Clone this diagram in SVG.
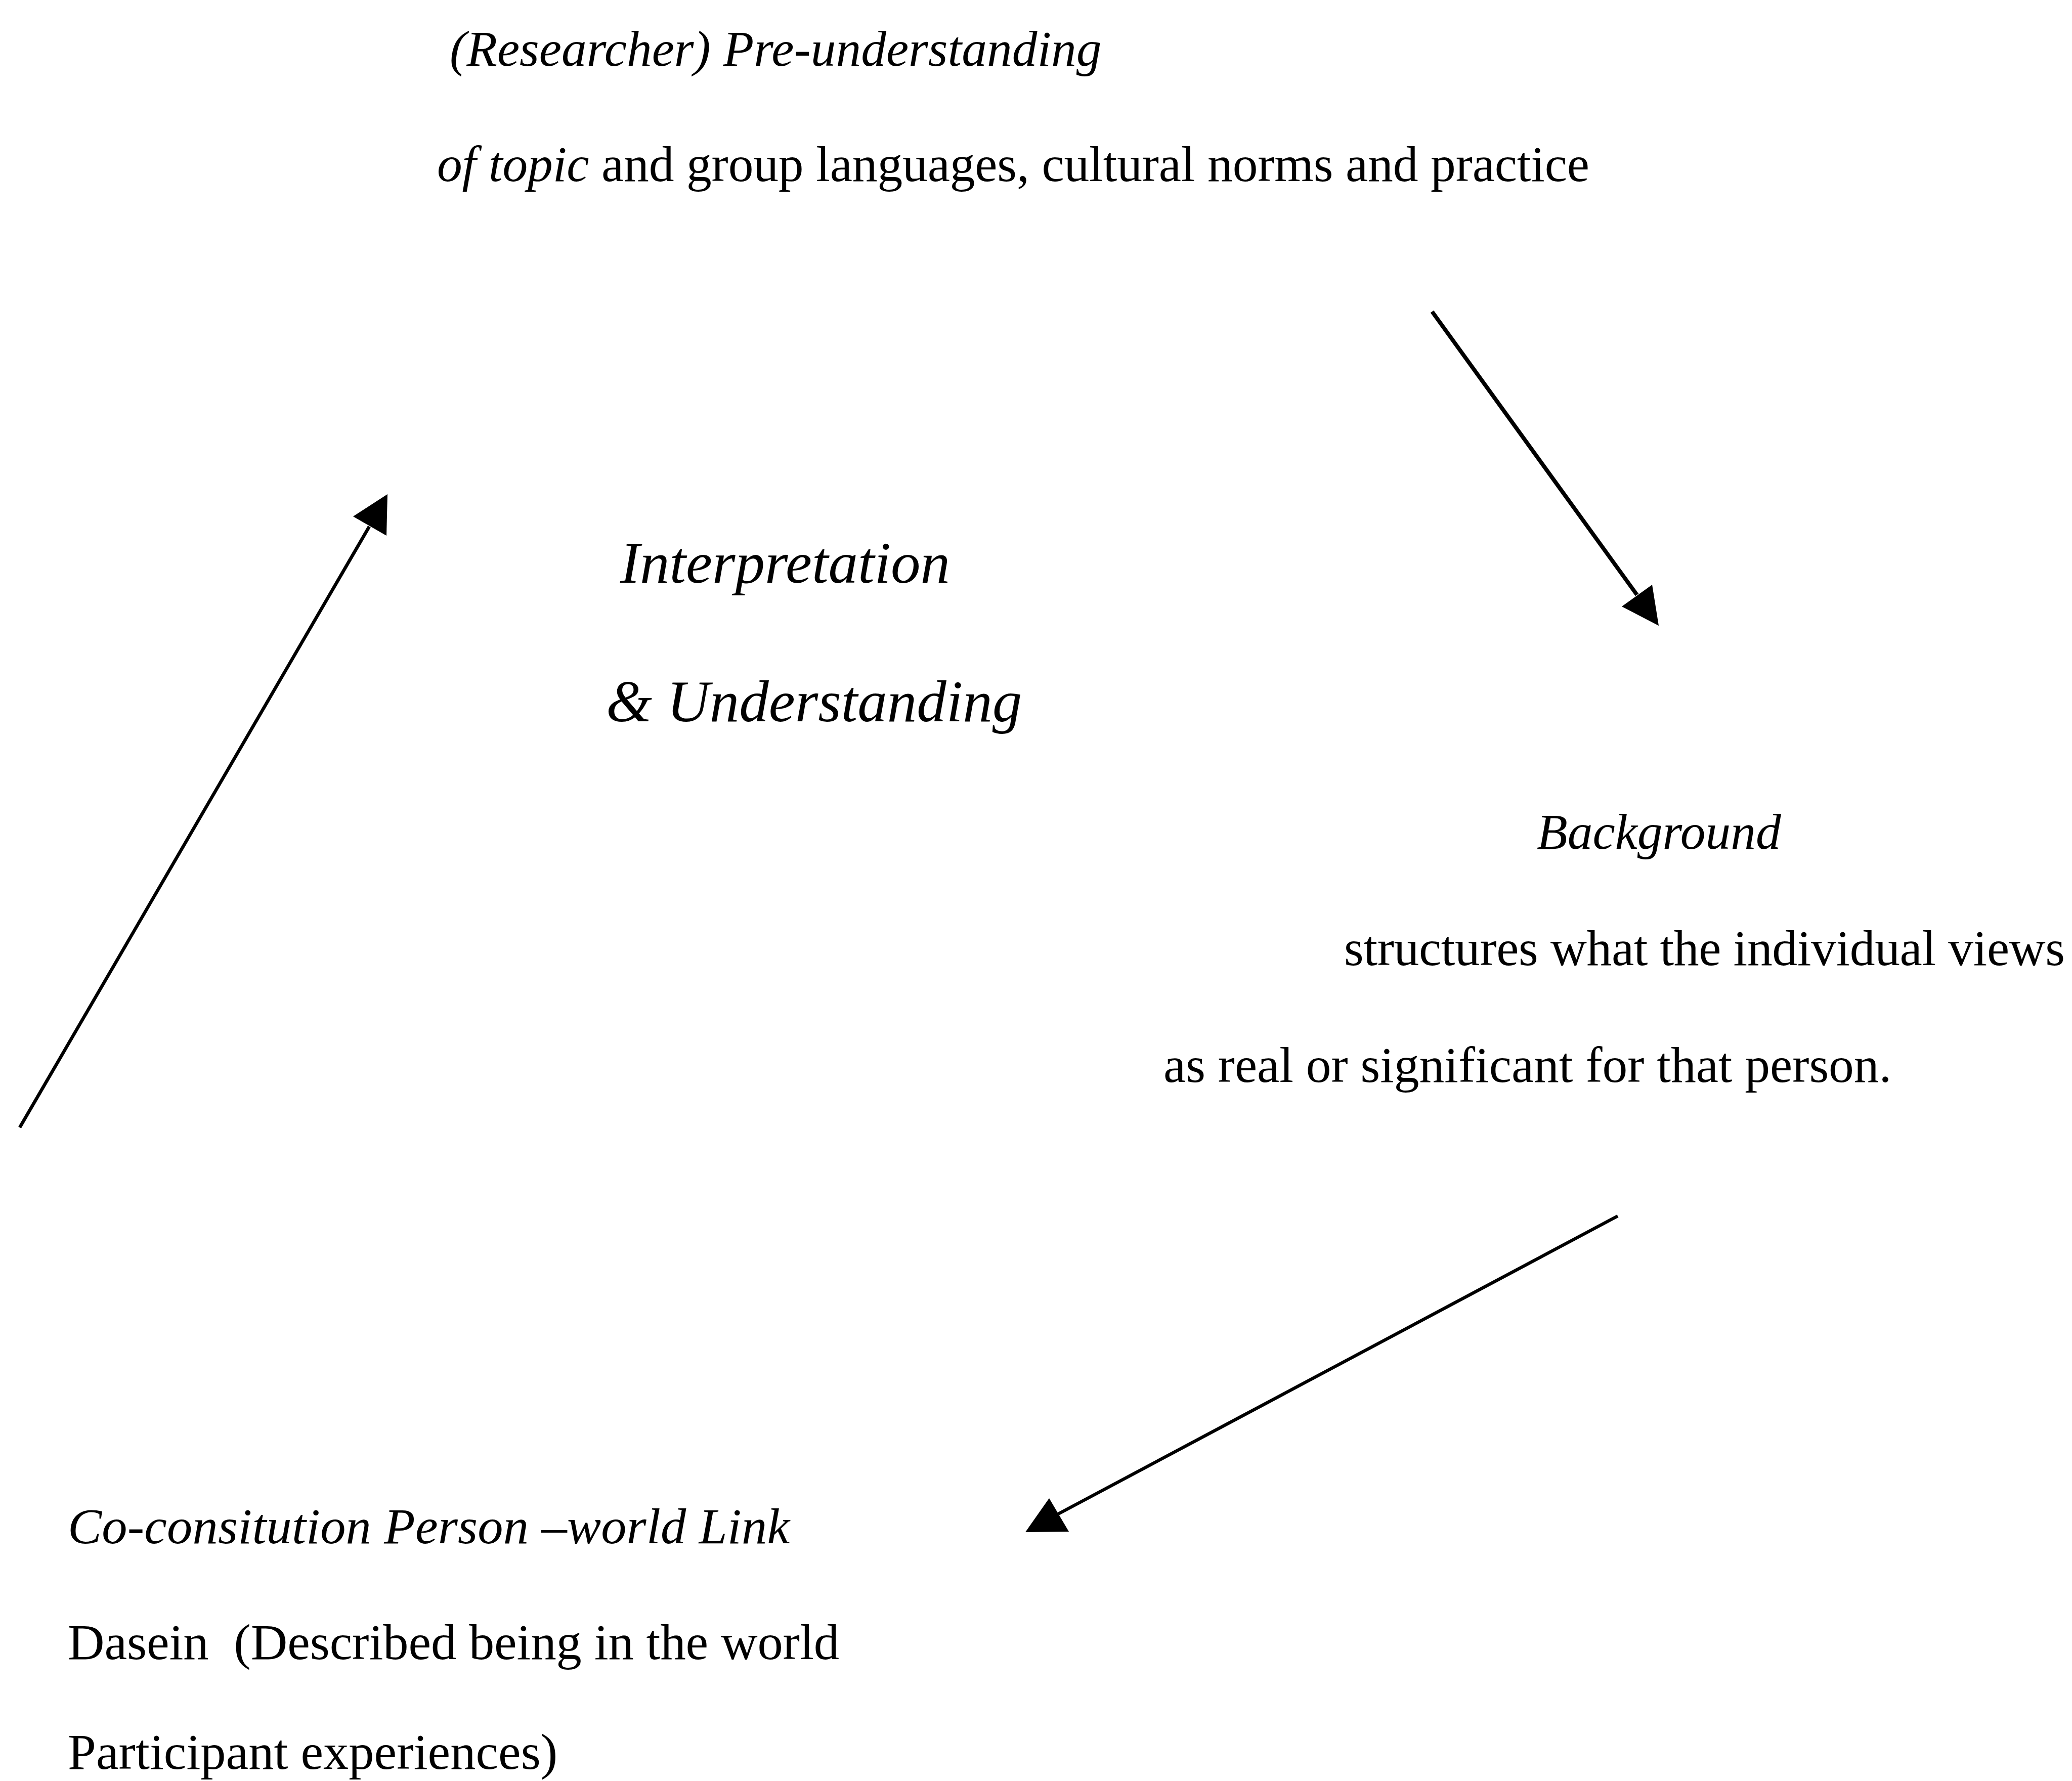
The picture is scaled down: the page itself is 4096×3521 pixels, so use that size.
<svg xmlns="http://www.w3.org/2000/svg" width="4096" height="3521" viewBox="0 0 4096 3521">
<style>
  .t { font-family: "Liberation Serif", "Times New Roman", serif; font-size: 99.5px; fill: #000; white-space: pre; }
  .i { font-style: italic; }
  .big { font-size: 117px; }
  .b { font-size: 100.5px; }
  .ln { stroke: #000; fill: none; stroke-linecap: butt; }
  .hd { fill: #000; stroke: none; }
</style>
<rect width="4096" height="3521" fill="#fff"/>
<g id="node-preunderstanding">
  <text class="t i" x="889" y="130">(Researcher) Pre-understanding</text>
  <text class="t" x="864" y="358" xml:space="preserve" textLength="2278" lengthAdjust="spacing"><tspan class="i">of topic</tspan> and group languages, cultural norms and practice</text>
</g>
<g id="node-interpretation">
  <text class="t i big" x="1226" y="1152">Interpretation</text>
  <text class="t i big" x="1198" y="1426">&amp; Understanding</text>
</g>
<g id="node-background">
  <text class="t i" x="3038" y="1678">Background</text>
  <text class="t" x="2657" y="1908" textLength="1425" lengthAdjust="spacing">structures what the individual views</text>
  <text class="t" x="2300" y="2139">as real or significant for that person.</text>
</g>
<g id="node-coconstitution">
  <text class="t b i" x="134" y="3051" textLength="1427" lengthAdjust="spacing">Co-consitution Person –world Link</text>
  <text class="t b" x="134" y="3280" xml:space="preserve" textLength="1525" lengthAdjust="spacing">Dasein  (Described being in the world</text>
  <text class="t b" x="134" y="3497">Participant experiences)</text>
</g>
<g id="connectors">
  <line class="ln" x1="2831" y1="616" x2="3236" y2="1176" stroke-width="8"/>
  <polygon class="hd" points="3266,1156 3206,1199 3279,1237"/>
  <line class="ln" x1="39" y1="2229" x2="730" y2="1041" stroke-width="6.5"/>
  <polygon class="hd" points="766,977 698,1021 764,1059"/>
  <line class="ln" x1="3198" y1="2404" x2="2092" y2="2993" stroke-width="6.5"/>
  <polygon class="hd" points="2074,2962 2027,3029 2113,3028"/>
</g>
</svg>
